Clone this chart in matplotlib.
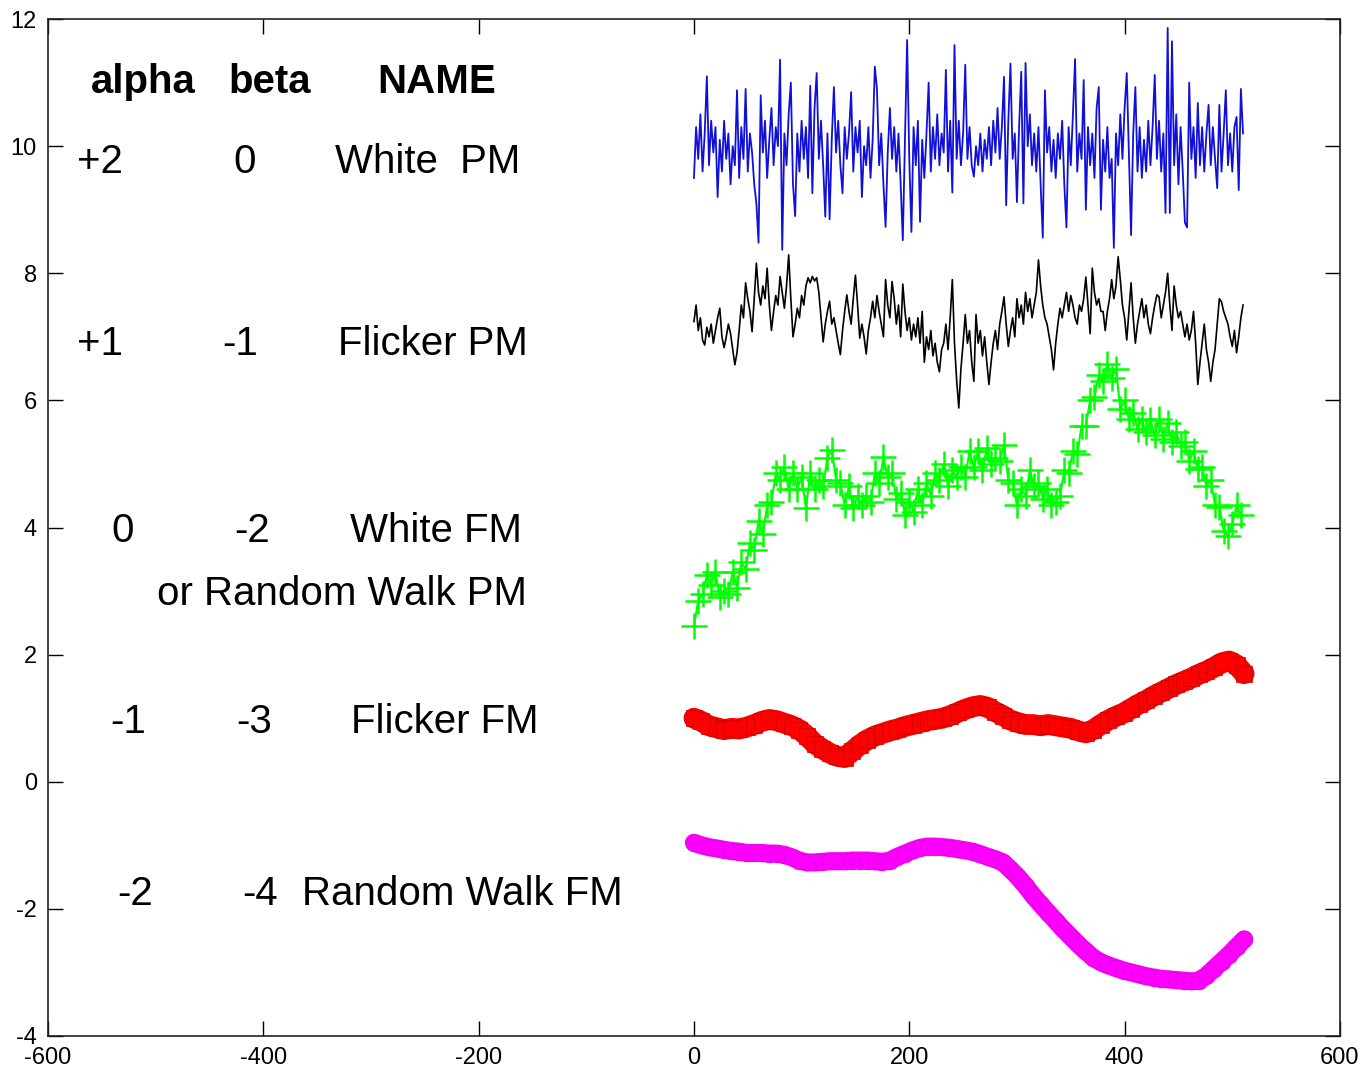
import numpy as np
import matplotlib.pyplot as plt

plt.rcParams['font.family'] = ['Liberation Sans', 'DejaVu Sans']
plt.rcParams['axes.unicode_minus'] = False

# White PM (alpha=+2), every 2nd sample
white_pm = [
    9.5, 10.3, 9.8, 10.5, 9.6, 10.2, 11.1, 9.7, 10.4, 9.9,
    10.3, 9.2, 10.1, 9.6, 10.4, 9.8, 10.2, 9.4, 10.0, 9.7,
    10.88, 9.5, 10.3, 9.8, 10.9, 9.6, 10.2, 9.9, 9.4, 9.1,
    8.48, 10.8, 9.9, 10.4, 9.5, 10.1, 10.6, 9.7, 10.3, 10.0,
    11.36, 8.37, 10.2, 9.7, 10.5, 11.0, 9.4, 8.9, 10.2, 9.6,
    10.4, 9.8, 10.3, 9.5, 10.95, 9.26, 10.6, 11.15, 9.8, 10.4,
    9.7, 8.89, 10.2, 8.85, 10.1, 10.93, 9.9, 10.4, 9.7, 9.26,
    10.3, 9.8, 10.2, 10.85, 9.6, 10.3, 9.9, 10.4, 9.2, 10.0,
    9.7, 10.3, 9.5, 10.1, 11.25, 10.9, 9.7, 10.2, 9.4, 8.73,
    9.9, 10.6, 9.8, 10.3, 9.6, 10.2, 9.4, 8.52, 10.1, 11.67,
    9.8, 8.65, 10.3, 9.7, 10.4, 8.81, 10.1, 9.5, 10.2, 11.0,
    9.6, 10.3, 9.8, 10.5, 9.7, 10.2, 9.9, 11.2, 9.6, 10.4,
    9.27, 11.59, 9.8, 10.4, 9.7, 10.2, 11.28, 9.8, 10.3, 9.7,
    9.52, 10.0, 9.7, 10.2, 9.6, 10.1, 9.8, 10.3, 9.7, 10.4,
    9.9, 10.6, 9.8, 10.3, 11.09, 9.07, 10.4, 11.3, 9.8, 10.2,
    9.12, 10.3, 11.17, 9.1, 11.31, 10.0, 10.5, 9.7, 10.2, 9.6,
    10.3, 9.4, 8.56, 10.88, 9.9, 10.3, 9.6, 10.1, 9.5, 10.2,
    9.8, 10.4, 9.4, 8.72, 10.3, 9.7, 10.5, 11.37, 9.6, 10.2,
    9.8, 11.04, 9.0, 10.3, 9.7, 10.2, 9.5, 10.6, 10.93, 9.0,
    10.1, 9.6, 10.3, 9.5, 9.8, 8.4, 10.2, 9.7, 10.5, 9.8,
    10.6, 11.15, 9.9, 8.6, 10.2, 10.93, 9.6, 10.3, 9.5, 10.1,
    9.6, 10.4, 9.7, 10.3, 11.12, 9.8, 10.4, 9.6, 10.2, 8.95,
    11.86, 8.95, 11.65, 9.7, 10.5, 9.4, 10.3, 9.6, 8.8, 8.72,
    11.0, 9.8, 10.3, 9.5, 10.68, 9.7, 10.3, 9.6, 10.2, 10.65,
    9.7, 10.3, 9.8, 9.34, 10.65, 9.6, 10.2, 10.88, 9.7, 10.2,
    9.6, 10.3, 10.46, 9.31, 10.9, 10.2,
]

# Flicker PM (alpha=+1), every 2nd sample
flicker_pm = [
    7.24, 7.5, 7.1, 7.3, 6.95, 6.87, 7.15, 7.0, 7.2, 6.9,
    7.1, 7.3, 7.45, 7.0, 6.83, 7.0, 7.2, 7.05, 6.8, 6.56,
    6.75, 7.1, 7.5, 7.3, 7.85, 7.6, 7.4, 7.08, 7.6, 8.16,
    7.7, 7.5, 7.8, 7.6, 8.08, 7.5, 7.1, 7.4, 7.65, 7.5,
    7.95, 7.7, 7.45, 7.8, 8.29, 7.6, 7.0, 7.2, 7.45, 7.3,
    7.65, 7.5, 7.8, 7.93, 7.85, 7.95, 7.88, 7.93, 7.7, 7.3,
    6.92, 7.2, 7.4, 7.56, 7.2, 7.3, 7.1, 6.9, 6.72, 7.1,
    7.4, 7.66, 7.4, 7.2, 7.6, 7.97, 7.5, 6.98, 7.2, 7.0,
    6.73, 7.1, 7.3, 7.56, 7.3, 7.65, 7.4, 7.2, 7.0, 7.9,
    7.5, 7.3, 7.87, 7.6, 7.2, 7.5, 7.0, 7.83, 7.4, 7.1,
    7.3, 6.95, 7.2, 7.0, 7.3, 6.9, 7.4, 6.6, 7.0, 6.8,
    7.1, 6.7, 6.9, 6.6, 6.45, 6.8, 6.9, 7.2, 6.8, 7.3,
    7.9, 6.9, 6.32, 5.88, 6.5, 6.9, 7.35, 6.9, 7.1, 6.6,
    6.3, 7.35, 6.9, 7.1, 6.7, 7.0, 6.6, 6.25, 6.6, 6.9,
    7.1, 6.8, 7.2, 7.4, 7.63, 7.2, 6.85, 7.1, 7.3, 7.0,
    7.6, 7.3, 7.5, 7.2, 7.7, 7.4, 7.6, 7.3, 7.5, 7.7,
    8.21, 7.8, 7.5, 7.3, 7.2, 7.0, 6.8, 6.48, 6.9, 7.2,
    7.45, 7.3, 7.5, 7.7, 7.4, 7.65, 7.5, 7.3, 7.2, 7.5,
    7.4, 7.6, 7.94, 7.5, 7.05, 8.08, 7.7, 7.5, 7.6, 7.4,
    7.4, 7.1, 7.4, 7.6, 7.9, 7.6, 7.8, 8.26, 7.9, 7.5,
    7.3, 6.95, 7.4, 7.85, 7.3, 6.9, 7.2, 7.4, 7.6, 7.3,
    7.5, 7.2, 7.05, 7.3, 7.5, 7.66, 7.63, 7.3, 7.5, 7.7,
    8.0, 7.5, 7.1, 7.8, 7.5, 7.3, 7.4, 7.2, 7.0, 7.2,
    6.95, 7.1, 7.4, 6.9, 6.25, 6.6, 6.9, 7.2, 6.8, 6.6,
    6.3, 6.6, 6.8, 7.2, 7.6, 7.55, 7.4, 7.3, 7.2, 7.0,
    6.85, 7.1, 6.75, 7.0, 7.3, 7.5,
]

# White FM / random walk PM (alpha=0), every 4th sample
white_fm = [
    2.45, 2.85, 2.95, 3.25, 3.1, 3.3, 2.9, 3.0, 2.95, 3.3,
    3.05, 3.45, 3.35, 3.75, 3.65, 4.1, 3.9, 4.35, 4.4, 4.85,
    4.75, 4.95, 4.6, 4.85, 4.6, 4.8, 4.3, 4.85, 4.6, 4.75,
    4.65, 5.1, 5.22, 4.75, 4.7, 4.35, 4.65, 4.3, 4.5, 4.35,
    4.5, 4.4, 4.85, 4.7, 5.11, 4.8, 4.85, 4.45, 4.55, 4.2,
    4.4, 4.25, 4.6, 4.35, 4.7, 4.5, 4.85, 4.75, 5.0, 4.65,
    4.9, 4.8, 4.95, 4.8, 5.2, 4.95, 5.2, 4.9, 5.25, 5.0,
    5.1, 5.05, 5.3, 4.75, 4.7, 4.35, 4.6, 4.5, 4.9, 4.65,
    4.7, 4.45, 4.6, 4.35, 4.4, 4.5, 4.9, 4.85, 5.2, 5.15,
    5.6, 5.6, 6.0, 6.05, 6.4, 6.3, 6.58, 6.35, 6.5, 5.86,
    6.0, 5.7, 5.8, 5.55, 5.7, 5.5, 5.69, 5.45, 5.7, 5.4,
    5.64, 5.35, 5.5, 5.28, 5.35, 5.05, 5.2, 4.92, 4.95, 4.65,
    4.75, 4.35, 4.33, 3.95, 3.86, 4.05, 4.35, 4.2,
]

# Flicker FM (alpha=-1), every 7th sample
flicker_fm = [
    1.0, 0.95, 0.88, 0.85, 0.82, 0.84, 0.83, 0.86, 0.9, 0.95,
    0.98, 0.96, 0.92, 0.88, 0.82, 0.72, 0.6, 0.52, 0.45, 0.4,
    0.38, 0.48, 0.58, 0.66, 0.72, 0.76, 0.8, 0.83, 0.87, 0.9,
    0.93, 0.96, 0.98, 1.0, 1.04, 1.09, 1.14, 1.18, 1.2, 1.17,
    1.1, 1.04, 0.97, 0.93, 0.9, 0.9, 0.88, 0.9, 0.88, 0.86,
    0.84, 0.8, 0.77, 0.82, 0.9, 0.97, 1.03, 1.08, 1.15, 1.22,
    1.28, 1.35, 1.41, 1.47, 1.53, 1.58, 1.63, 1.69, 1.74, 1.8,
    1.87, 1.9, 1.84, 1.7,
]

# Random walk FM (alpha=-2), every 7th sample
random_walk_fm = [
    -0.96, -1.0, -1.03, -1.05, -1.07, -1.09, -1.1, -1.12, -1.12, -1.12,
    -1.13, -1.13, -1.15, -1.19, -1.24, -1.27, -1.27, -1.26, -1.25, -1.25,
    -1.25, -1.24, -1.24, -1.24, -1.25, -1.26, -1.24, -1.18, -1.13, -1.08,
    -1.04, -1.02, -1.02, -1.03, -1.04, -1.06, -1.08, -1.1, -1.14, -1.18,
    -1.22, -1.27, -1.38, -1.5, -1.64, -1.79, -1.93, -2.06, -2.19, -2.32,
    -2.44, -2.56, -2.67, -2.77, -2.84, -2.89, -2.93, -2.97, -3.0, -3.03,
    -3.06, -3.08, -3.1, -3.11, -3.12, -3.13, -3.14, -3.13, -3.05, -2.94,
    -2.83, -2.72, -2.6, -2.48,
]

t2 = np.arange(0, 512, 2)
t4 = np.arange(0, 512, 4)
t7 = np.arange(0, 512, 7)

# table text: (x, y, string, bold)
table_text = [
    (-511.7, 10.84, 'alpha', True),
    (-393.8, 10.84, 'beta', True),
    (-238.7, 10.84, 'NAME', True),
    (-551.7, 9.58, '+2', False),
    (-417.0, 9.58, '0', False),
    (-247.0, 9.58, 'White  PM', False),
    (-551.7, 6.71, '+1', False),
    (-421.7, 6.71, '-1', False),
    (-242.4, 6.71, 'Flicker PM', False),
    (-530.3, 3.77, '0', False),
    (-410.5, 3.77, '-2', False),
    (-239.6, 3.77, 'White FM', False),
    (-326.9, 2.78, 'or Random Walk PM', False),
    (-525.7, 0.77, '-1', False),
    (-408.7, 0.77, '-3', False),
    (-231.3, 0.77, 'Flicker FM', False),
    (-519.2, -1.94, '-2', False),
    (-403.1, -1.94, '-4', False),
    (-215.5, -1.94, 'Random Walk FM', False),
]

fig = plt.figure(figsize=(13.62, 10.70), dpi=100)
ax = fig.add_axes([0.0352, 0.0318, 0.9486, 0.9504])

ax.plot(t2, white_pm, color='#1010d8', lw=1.3)
ax.plot(t2, flicker_pm, color='black', lw=1.2)
ax.plot(t4, white_fm, color='#00ff00', lw=1.5, marker='+', markersize=19,
        markeredgewidth=1.8)
ax.plot(t7, flicker_fm, color='#ff0000', lw=15, solid_capstyle='round',
        marker='s', markersize=12, markerfacecolor='#ff0000',
        markeredgecolor='#cc0000', markeredgewidth=0.5)
ax.plot(t7, random_walk_fm, color='#ff00ff', lw=13, solid_capstyle='round',
        marker='o', markersize=12, markerfacecolor='#ff00ff',
        markeredgecolor='#e000e0', markeredgewidth=0.5)

for x, y, s, bold in table_text:
    ax.text(x, y, s, ha='center', va='baseline', fontsize=29,
            fontweight='bold' if bold else 'normal')

ax.set_xlim(-600, 600)
ax.set_ylim(-4, 12)
ax.set_xticks(np.arange(-600, 601, 200))
ax.set_yticks(np.arange(-4, 13, 2))
ax.tick_params(direction='in', length=11, width=1, top=True, right=True,
               labelsize=17, colors='black')
ax.tick_params(axis='y', pad=8)
ax.tick_params(axis='x', pad=8)
for sp in ax.spines.values():
    sp.set_color('#222222')
    sp.set_linewidth(1.2)

plt.savefig('out.png', dpi=100)
